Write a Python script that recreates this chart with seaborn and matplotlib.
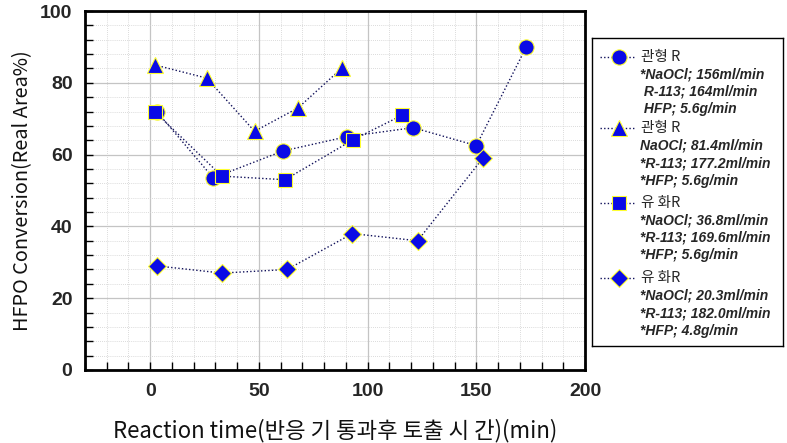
import matplotlib
matplotlib.use("Agg")
import matplotlib.pyplot as plt
import seaborn as sns
import numpy as np
from matplotlib.ticker import MultipleLocator
from matplotlib.lines import Line2D

# ---- data ----
circle_x = [3, 29, 61, 90.5, 121, 150, 173]
circle_y = [72, 53.5, 61, 65, 67.5, 62.5, 90]
tri_x = [2, 26, 48, 68, 88]
tri_y = [85, 81.3, 66.5, 73, 84]
sq_x = [2, 33, 62, 93.5, 116]
sq_y = [72, 54, 53, 64.2, 71]
dia_x = [3, 33, 63, 93, 123, 153]
dia_y = [29, 27, 28, 38, 36, 59]

legend_names = ["관형 R", "관형 R", "유 화R", "유 화R"]
legend_params = [
    ["*NaOCl; 156ml/min", " R-113; 164ml/min", " HFP; 5.6g/min"],
    ["NaOCl; 81.4ml/min", "*R-113; 177.2ml/min", "*HFP; 5.6g/min"],
    ["*NaOCl; 36.8ml/min", "*R-113; 169.6ml/min", "*HFP; 5.6g/min"],
    ["*NaOCl; 20.3ml/min", "*R-113; 182.0ml/min", "*HFP; 4.8g/min"],
]
x_ticks = [0, 50, 100, 150, 200]
y_ticks = [0, 20, 40, 60, 80, 100]

xlabel = "Reaction time(반응 기 통과후 토출 시 간)(min)"
ylabel = "HFPO Conversion(Real Area%)"

sns.set_theme(style="white")
plt.rcParams['font.family'] = ['Noto Sans CJK KR', 'DejaVu Sans']

W, H = 787, 443
fig = plt.figure(figsize=(W / 100, H / 100), dpi=100)
L, R, T, B = 85, 585, 11, 370
ax = fig.add_axes([L / W, 1 - B / H, (R - L) / W, (B - T) / H])

blue = "#0a0ae6"
edge = "#ffff30"
line_c = "#10105a"
series = [
    (circle_x, circle_y, "o", 11),
    (tri_x, tri_y, "^", 11),
    (sq_x, sq_y, "s", 10.5),
    (dia_x, dia_y, "D", 9.5),
]
for xs, ys, m, ms in series:
    sns.lineplot(x=xs, y=ys, ax=ax, sort=False, estimator=None,
                 color=line_c, lw=1.0, ls=(0, (1, 1.6)),
                 marker=m, markersize=ms, markerfacecolor=blue,
                 markeredgecolor=edge, markeredgewidth=0.8, zorder=3)

ax.set_xlim(-30, 200)
ax.set_ylim(0, 100)
ax.set_xticks(x_ticks)
ax.set_yticks(y_ticks)
ax.xaxis.set_minor_locator(MultipleLocator(10))
ax.yaxis.set_minor_locator(MultipleLocator(4))
ax.grid(True, which="major", color="#c4c4c4", lw=0.9, ls="-", zorder=0)
ax.grid(True, which="minor", color="#cfcfcf", lw=0.6, ls=(0, (1, 1.5)), zorder=0)
ax.set_axisbelow(True)
for s in ax.spines.values():
    s.set_color("black")
    s.set_linewidth(2)
    s.set_visible(True)
ax.tick_params(axis="both", which="both", direction="in", top=False, right=False,
               left=True, bottom=True, color="black", width=1)
ax.tick_params(axis="both", which="major", length=6, pad=9)
ax.tick_params(axis="both", which="minor", length=6)
for lab in ax.get_xticklabels() + ax.get_yticklabels():
    lab.set_family(['Liberation Sans', 'DejaVu Sans'])
    lab.set_fontweight("bold")
    lab.set_fontsize(14)
ax.set_xlabel(xlabel, fontsize=16, labelpad=14, color="#111111")
ax.set_ylabel(ylabel, fontsize=14.3, labelpad=5, color="#111111")

# ---- legend box (pixel coordinates inside) ----
lx0, lx1, ly0, ly1 = 592, 783, 38, 346
lax = fig.add_axes([lx0 / W, 1 - ly1 / H, (lx1 - lx0) / W, (ly1 - ly0) / H])
lax.set_xlim(0, lx1 - lx0)
lax.set_ylim(ly1 - ly0, 0)
lax.set_xticks([])
lax.set_yticks([])
lax.set_facecolor("white")
for s in lax.spines.values():
    s.set_color("black")
    s.set_linewidth(1)
    s.set_visible(True)

entry_y = [57, 128, 203, 278]
step = 17.5
for i, (xs, ys, m, ms) in enumerate(series):
    y0 = entry_y[i] - ly0
    lax.add_line(Line2D([8, 44], [y0, y0], color=line_c, lw=1.0, ls=(0, (1, 1.6))))
    lax.add_line(Line2D([27], [y0], marker=m, markersize=ms, markerfacecolor=blue,
                        markeredgecolor=edge, markeredgewidth=0.8, ls="none"))
    lax.text(49, y0, legend_names[i], fontsize=10.5, va="center", ha="left",
             family=['Noto Sans CJK KR', 'DejaVu Sans'])
    for j, t in enumerate(legend_params[i]):
        lax.text(48, y0 + step * (j + 1), t, fontsize=10, va="center", ha="left",
                 fontweight="bold", fontstyle="italic",
                 family=['Liberation Sans', 'DejaVu Sans'])

fig.savefig("out.png", dpi=100)
